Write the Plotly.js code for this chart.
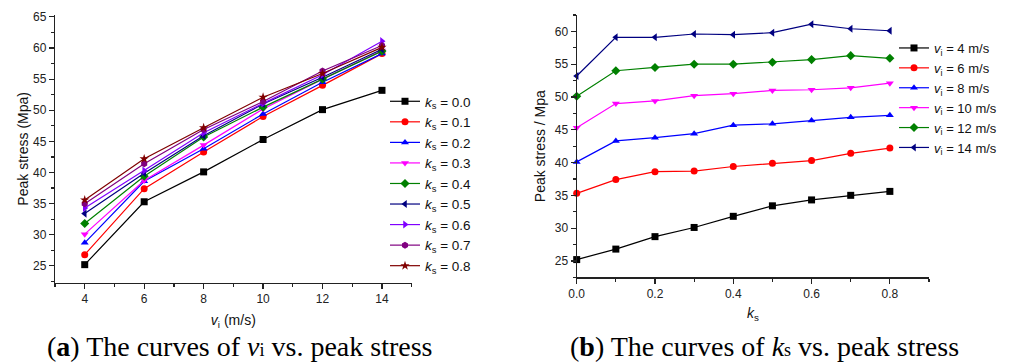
<!DOCTYPE html>
<html>
<head>
<meta charset="utf-8">
<script src="https://cdn.plot.ly/plotly-3.0.1.min.js"></script>
<style>html,body{margin:0;padding:0;background:#fff;}#chart{width:1010px;height:363px;}</style>
</head>
<body>
<div id="chart"></div>
<script>
// Data (peak stress, MPa), rows = impact velocity v_i, columns = k_s
const ks = [0.0, 0.1, 0.2, 0.3, 0.4, 0.5, 0.6, 0.7, 0.8];
const ksLabels = ["0.0", "0.1", "0.2", "0.3", "0.4", "0.5", "0.6", "0.7", "0.8"];
const vi = [4, 6, 8, 10, 12, 14];
const stress_v4  = [25.2, 26.8, 28.7, 30.1, 31.8, 33.4, 34.3, 35.0, 35.6];
const stress_v6  = [35.3, 37.4, 38.6, 38.7, 39.4, 39.9, 40.3, 41.4, 42.2];
const stress_v8  = [40.1, 43.3, 43.8, 44.4, 45.7, 45.9, 46.4, 46.9, 47.2];
const stress_v10 = [45.3, 49.0, 49.4, 50.2, 50.5, 51.0, 51.1, 51.4, 52.1];
const stress_v12 = [50.1, 54.0, 54.5, 55.0, 55.0, 55.3, 55.7, 56.3, 55.9];
const stress_v14 = [53.2, 59.1, 59.1, 59.6, 59.5, 59.8, 61.1, 60.4, 60.1];
const stressRows = [stress_v4, stress_v6, stress_v8, stress_v10, stress_v12, stress_v14];

// Styles
const kColors = ["#000000", "#FF0000", "#0000FF", "#FF00FF", "#008000", "#000080", "#8000FF", "#800080", "#800000"];
const kSymbols = ["square", "circle", "triangle-up", "triangle-down", "diamond", "triangle-left", "triangle-right", "hexagon", "star"];
const vColors = ["#000000", "#FF0000", "#0000FF", "#FF00FF", "#008000", "#000080"];
const vSymbols = ["square", "circle", "triangle-up", "triangle-down", "diamond", "triangle-left"];

const W = 1010, H = 363;
const px = x => x / W;
const py = y => (H - y) / H;

const traces = [];
ks.forEach((k, j) => {
  traces.push({
    x: vi,
    y: stressRows.map(r => r[j]),
    type: 'scatter', mode: 'lines+markers',
    name: '<i>k</i><sub>s</sub> = ' + ksLabels[j],
    xaxis: 'x', yaxis: 'y', legend: 'legend',
    line: {color: kColors[j], width: 1.2},
    marker: {symbol: kSymbols[j], color: kColors[j], size: 7},
    cliponaxis: false
  });
});
vi.forEach((v, i) => {
  traces.push({
    x: ks,
    y: stressRows[i],
    type: 'scatter', mode: 'lines+markers',
    name: '<i>v</i><sub>i</sub> = ' + v + ' m/s',
    xaxis: 'x2', yaxis: 'y2', legend: 'legend2',
    line: {color: vColors[i], width: 1.2},
    marker: {symbol: vSymbols[i], color: vColors[i], size: 7},
    cliponaxis: false
  });
});

const tickFont = {family: 'Liberation Sans, Arial, sans-serif', size: 12, color: '#222'};
const titleFont = {family: 'Liberation Sans, Arial, sans-serif', size: 14, color: '#111'};
const axisBase = {
  showline: true, linecolor: '#222', linewidth: 1.2, mirror: false,
  showgrid: false, zeroline: false,
  ticks: 'outside', ticklen: 5, tickwidth: 1.2, tickcolor: '#222',
  tickfont: tickFont
};

const layout = {
  width: W, height: H,
  margin: {l: 0, r: 0, t: 0, b: 0},
  paper_bgcolor: '#fff', plot_bgcolor: '#fff',
  font: {family: 'Liberation Sans, Arial, sans-serif'},
  xaxis: Object.assign({}, axisBase, {
    domain: [px(55), px(411.7)], anchor: 'y',
    range: [3, 15], tickvals: vi,
    minor: {dtick: 1, ticks: 'outside', ticklen: 3, tickcolor: '#222'},
    title: {text: '<i>v</i><sub>i</sub> (m/s)', font: titleFont, standoff: 10}
  }),
  yaxis: Object.assign({}, axisBase, {
    domain: [py(282.7), py(15)], anchor: 'x',
    range: [22.3, 65.3], dtick: 5, tick0: 25,
    minor: {dtick: 2.5, ticks: 'outside', ticklen: 3, tickcolor: '#222'},
    title: {text: 'Peak stress (Mpa)', font: titleFont, standoff: 1}
  }),
  xaxis2: Object.assign({}, axisBase, {
    domain: [px(576.7), px(929)], anchor: 'y2',
    range: [0, 0.9], dtick: 0.2, tick0: 0, tickformat: '.1f',
    minor: {dtick: 0.1, ticks: 'outside', ticklen: 3, tickcolor: '#222'},
    title: {text: '<i>k</i><sub>s</sub>', font: titleFont, standoff: 8}
  }),
  yaxis2: Object.assign({}, axisBase, {
    domain: [py(277.3), py(15)], anchor: 'x2',
    range: [22.5, 62.5], dtick: 5, tick0: 25,
    minor: {dtick: 2.5, ticks: 'outside', ticklen: 3, tickcolor: '#222'},
    title: {text: 'Peak stress / Mpa', font: titleFont, standoff: 5}
  }),
  legend: {
    x: px(385), y: py(86), xanchor: 'left', yanchor: 'top',
    bgcolor: 'rgba(0,0,0,0)', borderwidth: 0,
    font: {family: 'Liberation Sans, Arial, sans-serif', size: 13.5, color: '#111'},
    itemwidth: 30
  },
  legend2: {
    x: px(894), y: py(33), xanchor: 'left', yanchor: 'top',
    bgcolor: 'rgba(0,0,0,0)', borderwidth: 0,
    font: {family: 'Liberation Sans, Arial, sans-serif', size: 13, color: '#111'},
    itemwidth: 30
  },
  annotations: [
    {text: '(<b>a</b>) The curves of <i>v</i><span style="font-size:18px">i</span> vs. peak stress',
     xref: 'paper', yref: 'paper', x: px(240), y: py(346), xanchor: 'center', yanchor: 'middle',
     showarrow: false, font: {family: 'Liberation Serif, serif', size: 28, color: '#000'}},
    {text: '(<b>b</b>) The curves of <i>k</i><span style="font-size:18px">s</span> vs. peak stress',
     xref: 'paper', yref: 'paper', x: px(764), y: py(346), xanchor: 'center', yanchor: 'middle',
     showarrow: false, font: {family: 'Liberation Serif, serif', size: 28, color: '#000'}}
  ],
  showlegend: true
};

Plotly.newPlot('chart', traces, layout, {displayModeBar: false, staticPlot: true});
</script>
</body>
</html>
